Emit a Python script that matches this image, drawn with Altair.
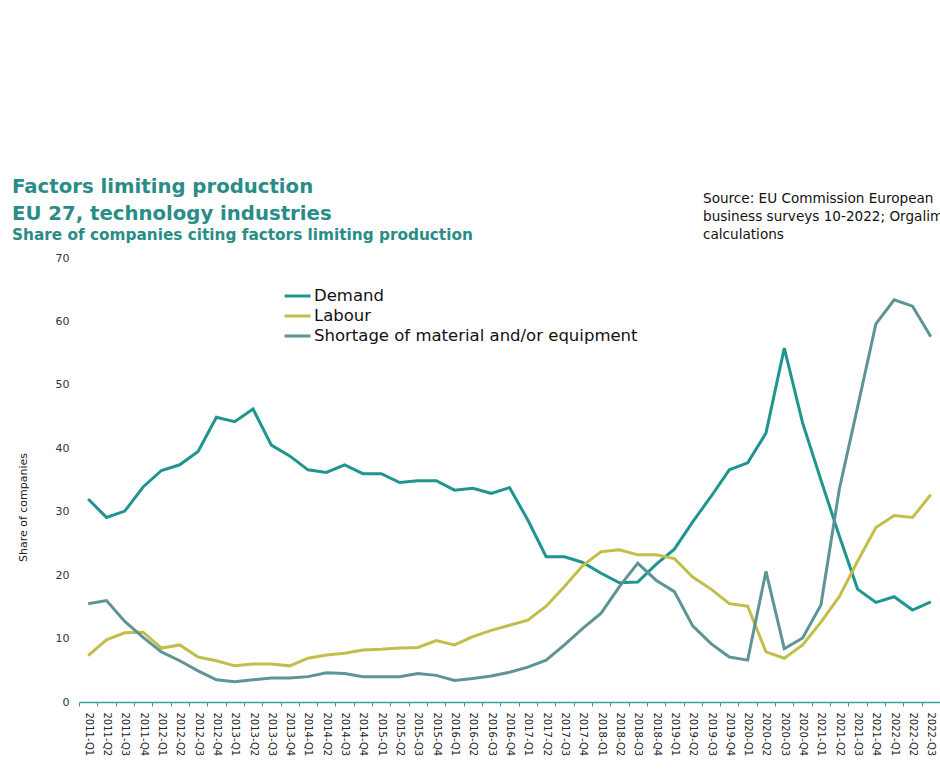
import altair as alt
import pandas as pd

quarters = [
    "2011-Q1", "2011-Q2", "2011-Q3", "2011-Q4",
    "2012-Q1", "2012-Q2", "2012-Q3", "2012-Q4",
    "2013-Q1", "2013-Q2", "2013-Q3", "2013-Q4",
    "2014-Q1", "2014-Q2", "2014-Q3", "2014-Q4",
    "2015-Q1", "2015-Q2", "2015-Q3", "2015-Q4",
    "2016-Q1", "2016-Q2", "2016-Q3", "2016-Q4",
    "2017-Q1", "2017-Q2", "2017-Q3", "2017-Q4",
    "2018-Q1", "2018-Q2", "2018-Q3", "2018-Q4",
    "2019-Q1", "2019-Q2", "2019-Q3", "2019-Q4",
    "2020-Q1", "2020-Q2", "2020-Q3", "2020-Q4",
    "2021-Q1", "2021-Q2", "2021-Q3", "2021-Q4",
    "2022-Q1", "2022-Q2", "2022-Q3",
]

demand = [
    32.0, 29.1, 30.1, 33.9,
    36.5, 37.4, 39.5, 44.9,
    44.2, 46.2, 40.5, 38.8,
    36.6, 36.2, 37.4, 36.0,
    36.0, 34.6, 34.9, 34.9,
    33.4, 33.7, 32.9, 33.8,
    28.7, 22.9, 22.9, 22.0,
    20.3, 18.8, 18.9, 21.7,
    24.1, 28.4, 32.4, 36.6,
    37.7, 42.4, 55.8, 44.0,
    35.0, 26.2, 17.8, 15.7,
    16.6, 14.5, 15.8,
]

labour = [
    7.3, 9.8, 10.9, 11.0,
    8.5, 9.0, 7.1, 6.5,
    5.7, 6.0, 6.0, 5.7,
    6.9, 7.4, 7.7, 8.2,
    8.3, 8.5, 8.6, 9.7,
    9.0, 10.3, 11.3, 12.1,
    12.9, 15.1, 18.2, 21.5,
    23.7, 24.0, 23.2, 23.2,
    22.6, 19.7, 17.8, 15.5,
    15.1, 7.9, 6.9, 9.0,
    12.6, 16.6, 22.2, 27.5,
    29.4, 29.1, 32.7,
]

shortage = [
    15.5, 16.0, 12.7, 10.2,
    7.9, 6.5, 4.9, 3.5,
    3.2, 3.5, 3.8, 3.8,
    4.0, 4.6, 4.5, 4.0,
    4.0, 4.0, 4.5, 4.2,
    3.4, 3.7, 4.1, 4.7,
    5.5, 6.6, 9.0, 11.6,
    14.0, 18.2, 21.9, 19.2,
    17.4, 12.0, 9.2, 7.1,
    6.6, 20.6, 8.4, 10.1,
    15.3, 33.5, 46.5, 59.6,
    63.4, 62.4, 57.6,
]

series_names = ["Demand", "Labour", "Shortage of material and/or equipment"]
series_colors = ["#1f9590", "#c3be4a", "#5f9497"]

title_lines = ["Factors limiting production", "EU 27, technology industries"]
subtitle_line = "Share of companies citing factors limiting production"
source_lines = ["Source: EU Commission European", "business surveys 10-2022; Orgalim", "calculations"]

rows = []
for name, vals in zip(series_names, [demand, labour, shortage]):
    for q, v in zip(quarters, vals):
        rows.append({"quarter": q, "value": v, "series": name})
df = pd.DataFrame(rows)

FONT = "DejaVu Sans"
TEAL = "#2a8c87"

lines = alt.Chart(df).mark_line(strokeWidth=3).encode(
    x=alt.X(
        "quarter:N",
        sort=quarters,
        scale=alt.Scale(domain=quarters, paddingInner=0, paddingOuter=0),
        axis=alt.Axis(
            title=None,
            labelAngle=90,
            labelFontSize=10,
            labelFont=FONT,
            labelColor="#222222",
            labelPadding=6,
            labelOverlap=False,
            tickBand="extent",
            tickSize=4,
            tickColor="#3a9f99",
            domainColor="#3a9f99",
            domainWidth=1.5,
            grid=False,
        ),
    ),
    y=alt.Y(
        "value:Q",
        scale=alt.Scale(domain=[0, 70], nice=False),
        axis=alt.Axis(
            title="Share of companies",
            titleFont=FONT,
            titleFontSize=11,
            titleFontWeight="normal",
            titleColor="#222222",
            titleX=-51,
            titleY=249,
            values=[0, 10, 20, 30, 40, 50, 60, 70],
            labelFont=FONT,
            labelFontSize=11,
            labelColor="#333333",
            labelPadding=10,
            domain=False,
            ticks=False,
            grid=False,
        ),
    ),
    color=alt.Color(
        "series:N",
        sort=series_names,
        scale=alt.Scale(domain=series_names, range=series_colors),
        legend=alt.Legend(
            title=None,
            orient="none",
            legendX=204,
            legendY=28,
            symbolType="stroke",
            symbolSize=676,
            symbolStrokeWidth=3,
            labelFont=FONT,
            labelFontSize=16.5,
            labelColor="#111111",
            labelOffset=2,
            labelLimit=0,
            clipHeight=20,
            rowPadding=0,
            padding=0,
        ),
    ),
)

t1 = alt.Chart(pd.DataFrame({"t": [title_lines[0]]})).mark_text(
    align="left", baseline="alphabetic", font=FONT, fontWeight="bold",
    fontSize=19.7, color=TEAL,
).encode(text="t:N", x=alt.value(-67), y=alt.value(-65))
t2 = alt.Chart(pd.DataFrame({"t": [title_lines[1]]})).mark_text(
    align="left", baseline="alphabetic", font=FONT, fontWeight="bold",
    fontSize=19.7, color=TEAL,
).encode(text="t:N", x=alt.value(-67), y=alt.value(-38))
t3 = alt.Chart(pd.DataFrame({"t": [subtitle_line]})).mark_text(
    align="left", baseline="alphabetic", font=FONT, fontWeight="bold",
    fontSize=15.3, color=TEAL,
).encode(text="t:N", x=alt.value(-67), y=alt.value(-18))

src = []
for i, s in enumerate(source_lines):
    src.append(
        alt.Chart(pd.DataFrame({"t": [s]})).mark_text(
            align="left", baseline="alphabetic", font=FONT,
            fontSize=13.6, color="#111111",
        ).encode(text="t:N", x=alt.value(624), y=alt.value(-55 + 18 * i))
    )

chart = alt.layer(lines, t1, t2, t3, *src).properties(
    width=861,
    height=444,
    autosize=alt.AutoSizeParams(type="none"),
    padding={"left": 79, "top": 258, "right": 0, "bottom": 79},
    background="white",
).configure_view(stroke=None)

chart.save("out.html", embed_options={"renderer": "svg", "actions": False})
